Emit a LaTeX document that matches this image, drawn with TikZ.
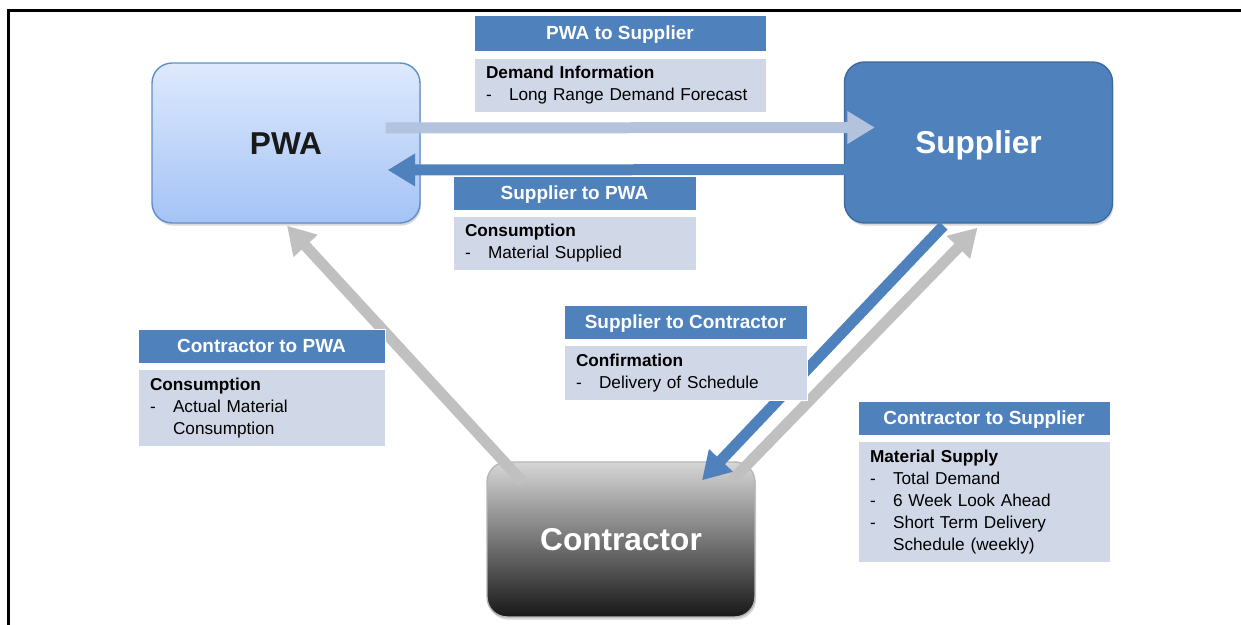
\documentclass[tikz,border=0pt]{standalone}
\usepackage{fontspec}
\setmainfont{Liberation Sans}
\usetikzlibrary{arrows.meta,calc,shadows}
\definecolor{hdblue}{HTML}{4F81BD}
\definecolor{bdblue}{HTML}{D0D8E8}
\definecolor{ltblue}{HTML}{B3C3DE}
\definecolor{arrgray}{HTML}{C0C0C0}
\definecolor{pwatop}{HTML}{DEE9FC}
\definecolor{pwabot}{HTML}{A4C3F5}
\definecolor{pwaline}{HTML}{5E8FCB}
\definecolor{supline}{HTML}{3D6A9E}
\definecolor{contop}{HTML}{D6D6D6}
\definecolor{conbot}{HTML}{181818}
\definecolor{conline}{HTML}{B5B5B5}
\newcommand{\itm}[1]{\makebox[0.46cm][l]{-}#1}

\begin{document}
\begin{tikzpicture}[x=0.02cm,y=-0.02cm]
\tikzset{big/.style={rounded corners=0.4cm,minimum width=5.36cm,minimum height=3.2cm,line width=0.8pt,
    text height=13pt,text depth=0pt,
    font=\fontsize{18}{20}\selectfont\bfseries,drop shadow={opacity=0.3,shadow xshift=0.6pt,shadow yshift=-1.5pt}},
  hd/.style={fill=hdblue,draw=white,line width=0.5pt,text=white,inner sep=0pt,minimum height=0.68cm,
    text height=7.8pt,text depth=0pt,font=\fontsize{10.8}{12}\selectfont\bfseries},
  bd/.style={fill=bdblue,draw=white,line width=0.5pt,align=left,inner xsep=0.24cm,inner ysep=0pt,
    font=\fontsize{9.8}{12.5}\selectfont},
  arr/.style={line width=0.22cm,-{Triangle[width=0.62cm,length=0.55cm]}}}
\useasboundingbox (0,0) rectangle (1241,625);

\path (286,143) node[big,top color=pwatop,bottom color=pwabot,draw=pwaline,text=black!90] (pwa) {PWA};
\path (978.5,142.5) node[big,fill=hdblue,draw=supline,text=white,minimum height=3.22cm] (sup) {Supplier};
\path (621,539.5) node[big,top color=contop,bottom color=conbot,draw=conline,text=white,minimum height=3.1cm] (con) {Contractor};

\draw[arr,ltblue] ($(pwa.east)+(-35,-15)$) -- ($(sup.west)+(31,-15)$);
\draw[arr,hdblue] ($(sup.west)+(33,27)$) -- ($(pwa.east)+(-33,27)$);
\draw[arr,arrgray] ($(con.north)+(-98,21)$) -- ($(pwa.south)+(1,2)$);
\draw[arr,hdblue] ($(sup.south)+(-35,2)$) -- ($(con.north)+(81,19)$);
\draw[arr,arrgray] ($(con.north)+(111,19)$) -- ($(sup.south)+(-1,4)$);

\path (620,33) node[hd,minimum width=5.84cm,minimum height=0.72cm] (h1) {PWA to Supplier};
\path (620,85.5) node[bd,text width=5.36cm,minimum height=1.08cm] (b1)
  {\textbf{Demand Information}\\\itm{Long Range Demand Forecast}};
\path (574.5,193) node[hd,minimum width=4.86cm] (h2) {Supplier to PWA};
\path (574.5,243.5) node[bd,text width=4.38cm,minimum height=1.08cm] (b2)
  {\textbf{Consumption}\\\itm{Material Supplied}};
\path (261.5,346) node[hd,minimum width=4.94cm] (h3) {Contractor to PWA};
\path (261.5,408) node[bd,text width=4.46cm,minimum height=1.54cm] (b3)
  {\textbf{Consumption}\\\itm{Actual Material}\\\hspace*{0.46cm}Consumption};
\path (685.5,322) node[hd,minimum width=4.86cm] (h4) {Supplier to Contractor};
\path (685.5,373) node[bd,text width=4.38cm,minimum height=1.1cm] (b4)
  {\textbf{Confirmation}\\\itm{Delivery of Schedule}};
\path (984,418) node[hd,minimum width=5.04cm] (h5) {Contractor to Supplier};
\path (984,502) node[bd,text width=4.56cm,minimum height=2.42cm] (b5)
  {\textbf{Material Supply}\\\itm{Total Demand}\\\itm{6 Week Look Ahead}\\\itm{Short Term Delivery}\\\hspace*{0.46cm}Schedule (weekly)};

\draw[line width=1.4pt] (8.5,625) -- (8.5,10.3) -- (1241,10.3);
\end{tikzpicture}
\end{document}
